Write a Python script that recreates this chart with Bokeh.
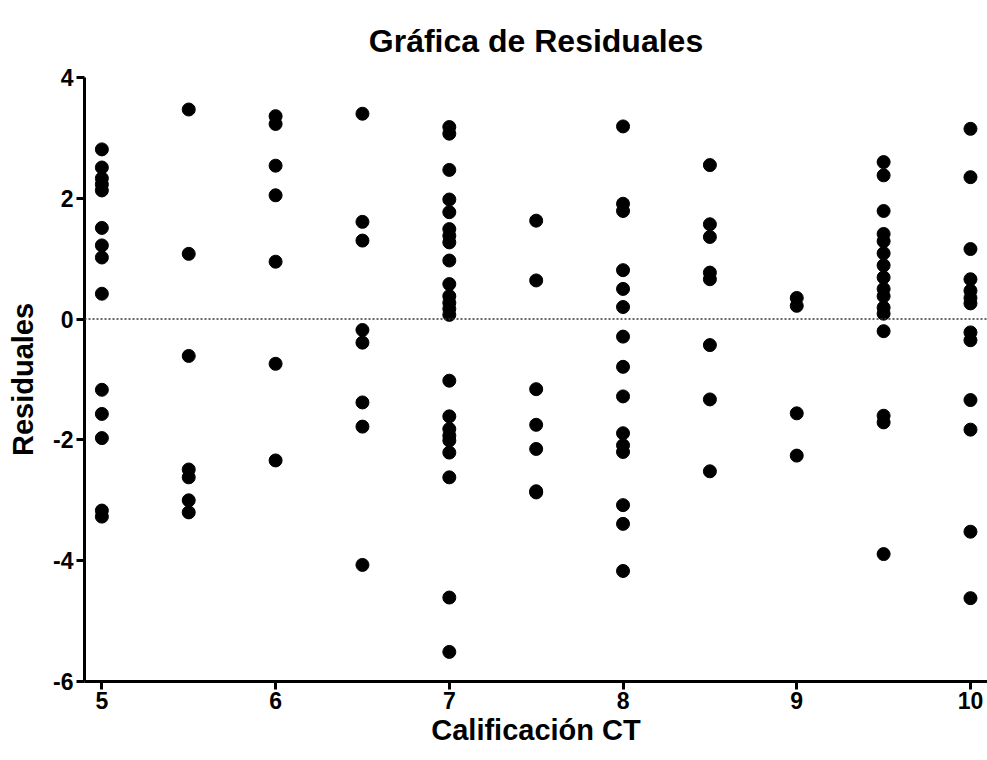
from bokeh.plotting import figure
from bokeh.models import Span, FixedTicker, Range1d, ColumnDataSource
from bokeh.embed import file_html
from bokeh.resources import INLINE

# Residuals grouped by CT score
res_5 = [2.81, 2.51, 2.33, 2.23, 2.13, 1.51, 1.22, 1.02, 0.42, -1.17, -1.57, -1.97, -3.17, -3.27]
res_5_5 = [3.47, 1.08, -0.61, -2.49, -2.62, -3.0, -3.2]
res_6 = [3.36, 3.23, 2.54, 2.05, 0.95, -0.74, -2.34]
res_6_5 = [3.40, 1.61, 1.30, -0.18, -0.39, -1.38, -1.78, -4.07]
res_7 = [3.18, 3.07, 2.47, 1.98, 1.77, 1.49, 1.38, 1.27, 0.97, 0.58, 0.38, 0.27, 0.17, 0.07,
         -1.02, -1.61, -1.82, -1.93, -2.01, -2.21, -2.62, -4.61, -5.51]
res_7_5 = [1.63, 0.64, -1.16, -1.75, -2.15, -2.85, -2.87]
res_8 = [3.19, 1.91, 1.79, 0.81, 0.50, 0.20, -0.29, -0.79, -1.28, -1.89, -2.09, -2.20, -3.08, -3.39, -4.17]
res_8_5 = [2.55, 1.57, 1.36, 0.77, 0.66, -0.43, -1.33, -2.52]
res_9 = [0.35, 0.22, -1.56, -2.26]
res_9_5 = [2.60, 2.38, 1.79, 1.41, 1.29, 1.09, 0.89, 0.69, 0.50, 0.38, 0.19, 0.09, -0.20, -1.60, -1.71, -3.89]
res_10 = [3.15, 2.35, 1.16, 0.66, 0.47, 0.35, 0.26, -0.22, -0.35, -1.34, -1.83, -3.52, -4.62]

groups = [(5.0, res_5), (5.5, res_5_5), (6.0, res_6), (6.5, res_6_5), (7.0, res_7), (7.5, res_7_5),
          (8.0, res_8), (8.5, res_8_5), (9.0, res_9), (9.5, res_9_5), (10.0, res_10)]

x_ticks = [5, 6, 7, 8, 9, 10]
y_ticks = [-6, -4, -2, 0, 2, 4]
y_tick_labels = {-6: "-6", -4: "-4", -2: "-2", 0: "0", 2: "2", 4: "4"}

title_text = "Gráfica de Residuales"
x_label_text = "Calificación CT"
y_label_text = "Residuales"

xs, ys = [], []
for g, vals in groups:
    xs += [g] * len(vals)
    ys += vals
src = ColumnDataSource(dict(x=xs, y=ys))

FONT = "Liberation Sans"
X0, X1, Y0, Y1 = 4.9, 10.098, -6, 4

p = figure(width=987, height=760, output_backend="svg", toolbar_location=None,
           x_range=Range1d(X0, X1), y_range=Range1d(Y0, Y1), title=title_text,
           min_border_left=84, min_border_right=0, min_border_top=77, min_border_bottom=79)

p.title.align = "center"
p.title.text_font = FONT
p.title.text_font_size = "32px"
p.title.text_font_style = "bold"
p.title.text_color = "black"
p.title.standoff = 38

p.scatter("x", "y", source=src, size=13, color="black", marker="circle")

p.add_layout(Span(location=0, dimension="width", line_color="#333333", line_width=1.5, line_dash="2 2"))

p.xgrid.visible = False
p.ygrid.visible = False
p.outline_line_color = None

p.xaxis.ticker = FixedTicker(ticks=x_ticks)
p.yaxis.ticker = FixedTicker(ticks=y_ticks)
p.yaxis.major_label_overrides = y_tick_labels
p.xaxis.axis_label = x_label_text
p.yaxis.axis_label = y_label_text

for ax in (p.xaxis[0], p.yaxis[0]):
    ax.axis_line_width = 3
    ax.axis_line_color = "black"
    ax.major_tick_line_width = 3
    ax.major_tick_line_color = "black"
    ax.major_tick_out = 8
    ax.major_tick_in = 0
    ax.minor_tick_line_color = None
    ax.major_label_text_font = FONT
    ax.major_label_text_font_style = "bold"
    ax.major_label_text_font_size = "23px"
    ax.major_label_text_color = "black"
    ax.axis_label_text_font = FONT
    ax.axis_label_text_font_style = "bold"
    ax.axis_label_text_font_size = "29px"
    ax.axis_label_text_color = "black"

p.xaxis.major_label_standoff = 2
p.yaxis.major_label_standoff = 3
p.xaxis.axis_label_standoff = 2
p.yaxis.axis_label_standoff = 11

open("out.html", "w").write(file_html(p, INLINE))
